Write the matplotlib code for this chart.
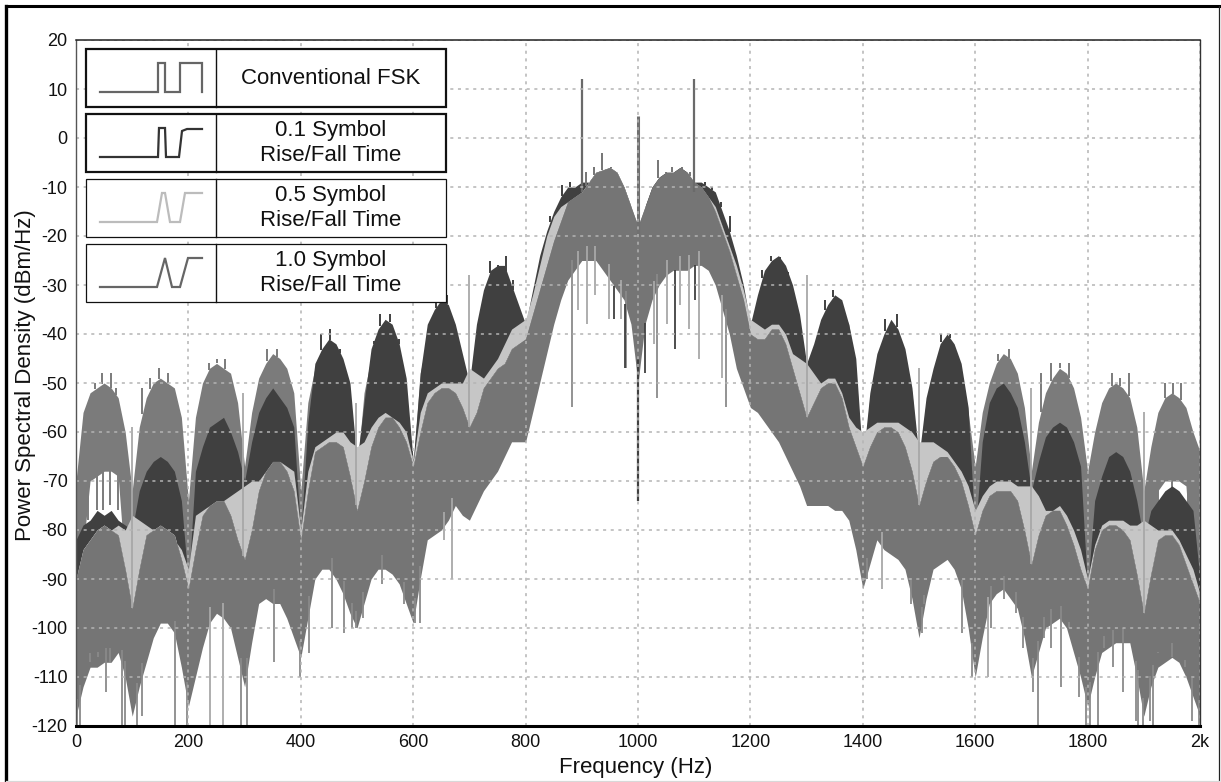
import numpy as np
import matplotlib
matplotlib.use('Agg')
import matplotlib.pyplot as plt
from matplotlib.patches import Rectangle

plt.rcParams['font.family'] = ['Liberation Sans', 'DejaVu Sans']
plt.rcParams['axes.unicode_minus'] = False

# spectrum envelopes, one value every 12.5 Hz (8 per row = 100 Hz)
freq = np.arange(0, 2000.1, 12.5)

conv_top = [
    -70, -56, -52, -51, -50, -51, -53, -60,
    -72, -59, -53, -50, -49, -50, -51, -57,
    -74, -57, -50, -47, -46, -47, -48, -54,
    -67, -56, -49, -46, -44, -45, -47, -52,
    -72, -54, -47, -44, -43, -44, -47, -54,
    -68, -52, -45, -42, -40, -41, -45, -52,
    -67, -48, -41, -38, -36, -37, -40, -47,
    -56, -42, -35, -31, -30, -31, -35, -42,
    -52, -42, -33, -27, -23, -19, -16, -13,
    -11, -9, -8, -8, -9, -10, -13, -16,
    -20, -15, -13, -10, -8, -8, -7, -8,
    -10, -11, -13, -15, -19, -23, -28, -34,
    -42, -38, -32, -30, -29, -30, -33, -39,
    -50, -44, -38, -35, -34, -35, -38, -47,
    -68, -53, -45, -41, -38, -40, -44, -52,
    -67, -54, -48, -43, -41, -43, -47, -56,
    -67, -56, -50, -46, -44, -45, -48, -55,
    -68, -58, -52, -49, -47, -48, -51, -57,
    -68, -60, -54, -51, -50, -51, -53, -59,
    -72, -63, -56, -53, -52, -53, -55, -60,
    -64]
dark_top = [
    -82, -79, -78, -76, -77, -76, -78, -79,
    -80, -72, -68, -66, -65, -66, -68, -74,
    -91, -68, -63, -59, -58, -57, -60, -64,
    -70, -62, -56, -53, -51, -53, -55, -59,
    -81, -58, -46, -43, -41, -42, -45, -50,
    -66, -54, -43, -39, -37, -38, -42, -49,
    -66, -48, -38, -35, -33, -34, -38, -44,
    -50, -38, -31, -27, -26, -26, -30, -34,
    -38, -31, -24, -19, -15, -12, -10, -10,
    -9, -9, -8, -8, -8, -9, -11, -14,
    -18, -14, -12, -10, -8, -7, -7, -7,
    -9, -9, -10, -11, -15, -19, -24, -30,
    -38, -32, -27, -25, -24, -26, -30, -36,
    -46, -42, -37, -34, -32, -33, -38, -45,
    -66, -52, -44, -40, -37, -39, -43, -51,
    -65, -53, -47, -42, -40, -42, -46, -55,
    -81, -62, -54, -51, -50, -52, -55, -62,
    -72, -66, -61, -59, -58, -59, -62, -67,
    -92, -74, -69, -65, -64, -65, -68, -74,
    -82, -76, -74, -72, -71, -72, -74, -76,
    -90]
light_top = [
    -90, -85, -82, -81, -80, -80, -79, -80,
    -77, -78, -79, -80, -80, -81, -82, -84,
    -88, -77, -76, -75, -74, -74, -73, -72,
    -71, -70, -70, -68, -66, -66, -67, -68,
    -80, -68, -63, -62, -61, -60, -60, -62,
    -63, -62, -59, -57, -56, -57, -58, -60,
    -66, -56, -52, -51, -50, -50, -50, -50,
    -47, -48, -49, -47, -45, -42, -39, -38,
    -37, -32, -26, -20, -16, -14, -13, -12,
    -11, -9, -8, -7, -7, -8, -11, -14,
    -18, -14, -10, -8, -7, -7, -6, -7,
    -9, -10, -12, -14, -18, -22, -26, -31,
    -37, -38, -39, -38, -38, -40, -44, -45,
    -46, -48, -50, -49, -49, -52, -57, -59,
    -60, -59, -58, -58, -58, -58, -59, -60,
    -62, -62, -62, -63, -64, -66, -68, -71,
    -76, -73, -71, -70, -70, -70, -71, -71,
    -71, -73, -76, -76, -75, -77, -80, -84,
    -90, -83, -79, -78, -78, -78, -79, -79,
    -78, -79, -80, -80, -80, -82, -85, -88,
    -93]
mid_top = [
    -90, -84, -82, -80, -79, -80, -81, -88,
    -96, -88, -81, -80, -79, -80, -81, -86,
    -92, -84, -77, -75, -74, -74, -77, -82,
    -86, -80, -72, -68, -66, -66, -68, -72,
    -82, -72, -64, -63, -62, -62, -63, -69,
    -76, -70, -63, -59, -57, -57, -59, -62,
    -67, -60, -54, -52, -51, -51, -52, -55,
    -59, -56, -51, -49, -47, -46, -43, -42,
    -41, -36, -31, -26, -21, -17, -13, -12,
    -11, -9, -7, -6.5, -6, -7, -10, -14,
    -18, -14, -10, -8, -7, -7, -6, -7,
    -9, -10, -12, -15, -19, -23, -28, -33,
    -40, -41, -41, -39, -39, -42, -47, -52,
    -57, -54, -51, -50, -50, -53, -59, -63,
    -67, -63, -60, -59, -59, -60, -63, -68,
    -75, -70, -66, -65, -65, -67, -70, -75,
    -81, -76, -73, -72, -72, -72, -74, -80,
    -87, -81, -77, -76, -76, -79, -83, -88,
    -92, -84, -80, -79, -79, -80, -82, -89,
    -97, -89, -82, -81, -81, -83, -87, -91,
    -95]
mid_low = [
    -118, -112, -108, -108, -107, -107, -105, -110,
    -118, -112, -107, -102, -99, -99, -101, -108,
    -116, -110, -104, -99, -97, -98, -100, -106,
    -112, -103, -95, -94, -95, -95, -98, -102,
    -106, -98, -90, -88, -88, -90, -93, -97,
    -100, -95, -90, -88, -88, -89, -91, -95,
    -99, -90, -82, -81, -80, -78, -75, -77,
    -78, -75, -72, -70, -68, -65, -62, -62,
    -62, -56, -50, -44, -38, -33, -29, -27,
    -25, -25, -25, -27, -29, -31, -33, -38,
    -50, -38, -33, -30, -28, -27, -27, -27,
    -26, -26, -27, -30, -35, -40, -47, -51,
    -55, -56, -58, -60, -62, -65, -68, -71,
    -75, -75, -75, -75, -76, -76, -78, -84,
    -92, -87, -82, -84, -85, -86, -88, -94,
    -102, -94, -88, -87, -86, -88, -92, -100,
    -110, -102, -95, -93, -92, -94, -96, -102,
    -110, -105, -100, -99, -98, -100, -105, -110,
    -116, -110, -105, -104, -103, -103, -103, -110,
    -118, -112, -108, -107, -106, -107, -110, -114,
    -118]
# lower edge of the conventional lobes where white shows under them
conv_low = list(mid_top)
conv_low[2:7] = [-70, -69, -68, -68, -69]
conv_low[154:159] = [-72, -70, -70, -70, -71]

# narrow lines that stick out of the envelopes: frequency, end value
carrier_freq = [900, 1100]
carrier_peak = [12, 12]
center_peak = 4.5
center_drop_low = -74
tooth_mid_freq = [908, 922, 936, 952, 1036, 1049, 1060, 1078, 1092]
tooth_mid_peak = [-7, -6, -3, -6, -4.5, -7, -6, -6, -7]
tooth_conv_freq = [34, 47, 62, 72, 118, 132, 148, 163, 236, 250, 265, 340, 358, 1640, 1660,
                   1717, 1735, 1750, 1767, 1843, 1858, 1873, 1937, 1952, 1966]
tooth_conv_peak = [-50, -48, -48, -51, -51, -49, -47, -48, -46, -45, -45, -43, -43, -44, -43,
                   -48, -46, -46, -46, -48, -49, -48, -50, -50, -50]
tooth_dark_freq = [436, 452, 470, 530, 541, 558, 575, 640, 660, 736, 751, 766, 778, 843, 864, 879,
                   1120, 1132, 1147, 1163, 1221, 1237, 1252, 1267, 1333, 1347, 1362, 1440, 1460, 1540, 1555]
tooth_dark_peak = [-40, -39, -43, -42, -36, -36, -41, -32, -32, -25, -27, -24, -29, -16, -9.5, -9,
                   -9, -10, -13, -16, -27, -24, -26, -28, -33, -31, -33, -37, -36, -40, -40]
conv_drop_freq = [22, 37, 48, 60, 75, 1926, 1950, 1978]
conv_drop_low = [-78, -76, -76, -75, -76, -75, -72, -75]
null_freq = [100, 298, 498, 700, 1300, 1500, 1700, 1900]
null_peak = [-59, -52, -54, -28, -28, -47, -51, -56]
drop_mid_freq = [1, 7, 25, 40, 53, 60, 81, 87, 108, 117, 176, 197, 294, 304, 353, 399, 415, 455, 476, 491,
                 498, 511, 544, 583, 603, 612, 882, 978, 1034, 1157, 1408, 1485, 1505, 1509, 1577,
                 1595, 1628, 1652, 1673, 1685, 1702, 1711, 1723, 1735, 1753, 1767, 1785, 1798, 1804, 1818,
                 1830, 1845, 1863, 1887, 1890, 1899, 1911, 1917, 1926, 1950, 1973, 1985, 1999]
drop_mid_low = [-120, -120, -107, -106, -113, -107, -120, -120, -120, -118, -120, -120, -120, -120, -107, -110,
                -105, -100, -101, -100, -100, -98, -91, -95, -99, -99, -55, -47, -53, -55, -90, -95, -101,
                -95, -101, -110, -100, -94, -97, -104, -113, -120, -102, -104, -112, -100, -114, -120, -120,
                -120, -104, -108, -113, -119, -120, -120, -119, -120, -105, -106, -108, -119, -120]
drop_light_freq = [239, 261, 654, 669, 894, 909, 924, 948, 969, 1028, 1052, 1075, 1090, 1108, 1150, 1434, 1622]
drop_light_low = [-120, -120, -82, -90, -35, -38, -32, -37, -37, -42, -38, -34, -39, -45, -49, -92, -110]
drop_dark_freq = [957, 977, 1013, 1066, 1102]
drop_dark_low = [-37, -47, -48, -43, -33]

x_ticks = [0, 200, 400, 600, 800, 1000, 1200, 1400, 1600, 1800, 2000]
x_labels = ['0', '200', '400', '600', '800', '1000', '1200', '1400', '1600', '1800', '2k']
y_ticks = list(range(-120, 21, 10))

legend_labels = ['Conventional FSK', '0.1 Symbol\nRise/Fall Time', '0.5 Symbol\nRise/Fall Time',
                 '1.0 Symbol\nRise/Fall Time']
# small waveform in each legend box, figure pixels
wave_x = [[100, 158, 158, 165, 165, 180, 180, 202, 202],
          [100, 158, 159, 165, 166, 179, 182, 187, 202],
          [100, 157, 162, 165, 170, 180, 185, 202],
          [100, 157, 165, 172, 180, 188, 202]]
wave_y = [[92, 92, 63, 63, 92, 92, 63, 63, 92],
          [157, 157, 128, 128, 157, 157, 131, 129, 129],
          [222, 222, 193, 193, 222, 222, 193, 193],
          [287, 287, 258, 287, 287, 258, 258]]

CONV = '#7b7b7b'
DARK = '#404040'
LIGHT = '#c6c6c6'
MID = '#757575'
HAIR = '#8a8a8a'
HAIR_LIGHT = '#a8a8a8'

W, H = 1221, 782
fig = plt.figure(figsize=(W / 100, H / 100), dpi=100, facecolor='white')
ax = fig.add_axes([76 / W, 1 - 726 / H, (1200 - 76) / W, (726 - 40) / H])

# same layer order as the legend: conventional, 0.1, 0.5, 1.0
ax.fill_between(freq, conv_low, conv_top, color=CONV, lw=0, zorder=1.0)
ax.vlines(tooth_conv_freq, np.interp(tooth_conv_freq, freq, conv_top), tooth_conv_peak, color=CONV, lw=1.4, zorder=1.0)
ax.vlines(conv_drop_freq, -68, conv_drop_low, color=CONV, lw=1.4, zorder=1.0)
ax.fill_between(freq, mid_top, dark_top, color=DARK, lw=0, zorder=1.1)
ax.vlines(tooth_dark_freq, np.interp(tooth_dark_freq, freq, dark_top), tooth_dark_peak, color=DARK, lw=1.4, zorder=1.1)
ax.fill_between(freq, mid_top, light_top, color=LIGHT, lw=0, zorder=1.2)
ax.fill_between(freq, mid_low, mid_top, color=MID, lw=0, zorder=1.3)
ax.vlines(drop_mid_freq, np.interp(drop_mid_freq, freq, mid_low) + 3, drop_mid_low, color=HAIR, lw=1.3, zorder=1.3)
ax.vlines(drop_light_freq, np.interp(drop_light_freq, freq, mid_low) + 3, drop_light_low, color=HAIR_LIGHT, lw=1.3, zorder=1.35)
ax.vlines(drop_dark_freq, np.interp(drop_dark_freq, freq, mid_low), drop_dark_low, color=DARK, lw=1.3, zorder=1.35)
ax.vlines(tooth_mid_freq, np.interp(tooth_mid_freq, freq, mid_top), tooth_mid_peak, color=MID, lw=1.4, zorder=1.3)
ax.vlines(null_freq, np.interp(null_freq, freq, mid_top), null_peak, color=HAIR_LIGHT, lw=1.3, zorder=1.4)
ax.vlines(carrier_freq, -11, carrier_peak, color='#6a6a6a', lw=1.6, zorder=1.4)
ax.vlines([1000], -20, center_peak, color='#707070', lw=2.2, zorder=1.4)
ax.vlines([1000], center_drop_low, -45, color=DARK, lw=1.6, zorder=1.4)

ax.set_xlim(0, 2000)
ax.set_ylim(-120, 20)
ax.set_xticks(x_ticks)
ax.set_xticklabels(x_labels)
ax.set_yticks(y_ticks)
ax.tick_params(length=0, labelsize=13, labelcolor='#111111')
ax.tick_params(axis='x', pad=6)
ax.tick_params(axis='y', pad=6)
ax.set_axisbelow(False)
ax.grid(True, color='#b4b4b4', lw=1.1, ls=(0, (2, 3)))
ax.set_xlabel('Frequency (Hz)', fontsize=16, labelpad=4, color='#111111', x=0.498)
ax.set_ylabel('Power Spectral Density (dBm/Hz)', fontsize=16, labelpad=-3, color='#111111', y=0.512)
for side, lw, col in zip(['bottom', 'left', 'top', 'right'], [2.2, 1.0, 1.1, 1.0],
                         ['black', '#555555', '#222222', '#333333']):
    ax.spines[side].set_linewidth(lw)
    ax.spines[side].set_color(col)
    ax.spines[side].set_zorder(3)

# overlay in figure pixels for the legend boxes and the outer frame
over = fig.add_axes([0, 0, 1, 1], facecolor='none')
over.set_xlim(0, W)
over.set_ylim(H, 0)
over.axis('off')
over.plot([6, 1219], [6, 6], color='black', lw=2.2)
over.plot([6, 6], [6, 782], color='black', lw=2.4)
over.plot([1219, 1219], [6, 782], color='#222222', lw=0.9)
over.plot([6, 1219], [781, 781], color='#d8d8d8', lw=0.9)

box_top = [49, 114, 179, 244]
box_lw = [1.6, 1.6, 0.9, 0.9]
wave_colors = ['#666666', '#333333', '#bcbcbc', '#666666']
for i in range(4):
    over.add_patch(Rectangle((86, box_top[i]), 360, 58, fc='white', ec='#111111', lw=box_lw[i]))
    over.plot([216, 216], [box_top[i], box_top[i] + 58], color='#111111', lw=1.0)
    over.plot(wave_x[i], wave_y[i], color=wave_colors[i], lw=1.6, solid_joinstyle='miter')
    over.text(331, box_top[i] + 29, legend_labels[i], fontsize=16, ha='center', va='center',
              linespacing=1.29, color='#111111')

fig.savefig('out.png', dpi=100)
